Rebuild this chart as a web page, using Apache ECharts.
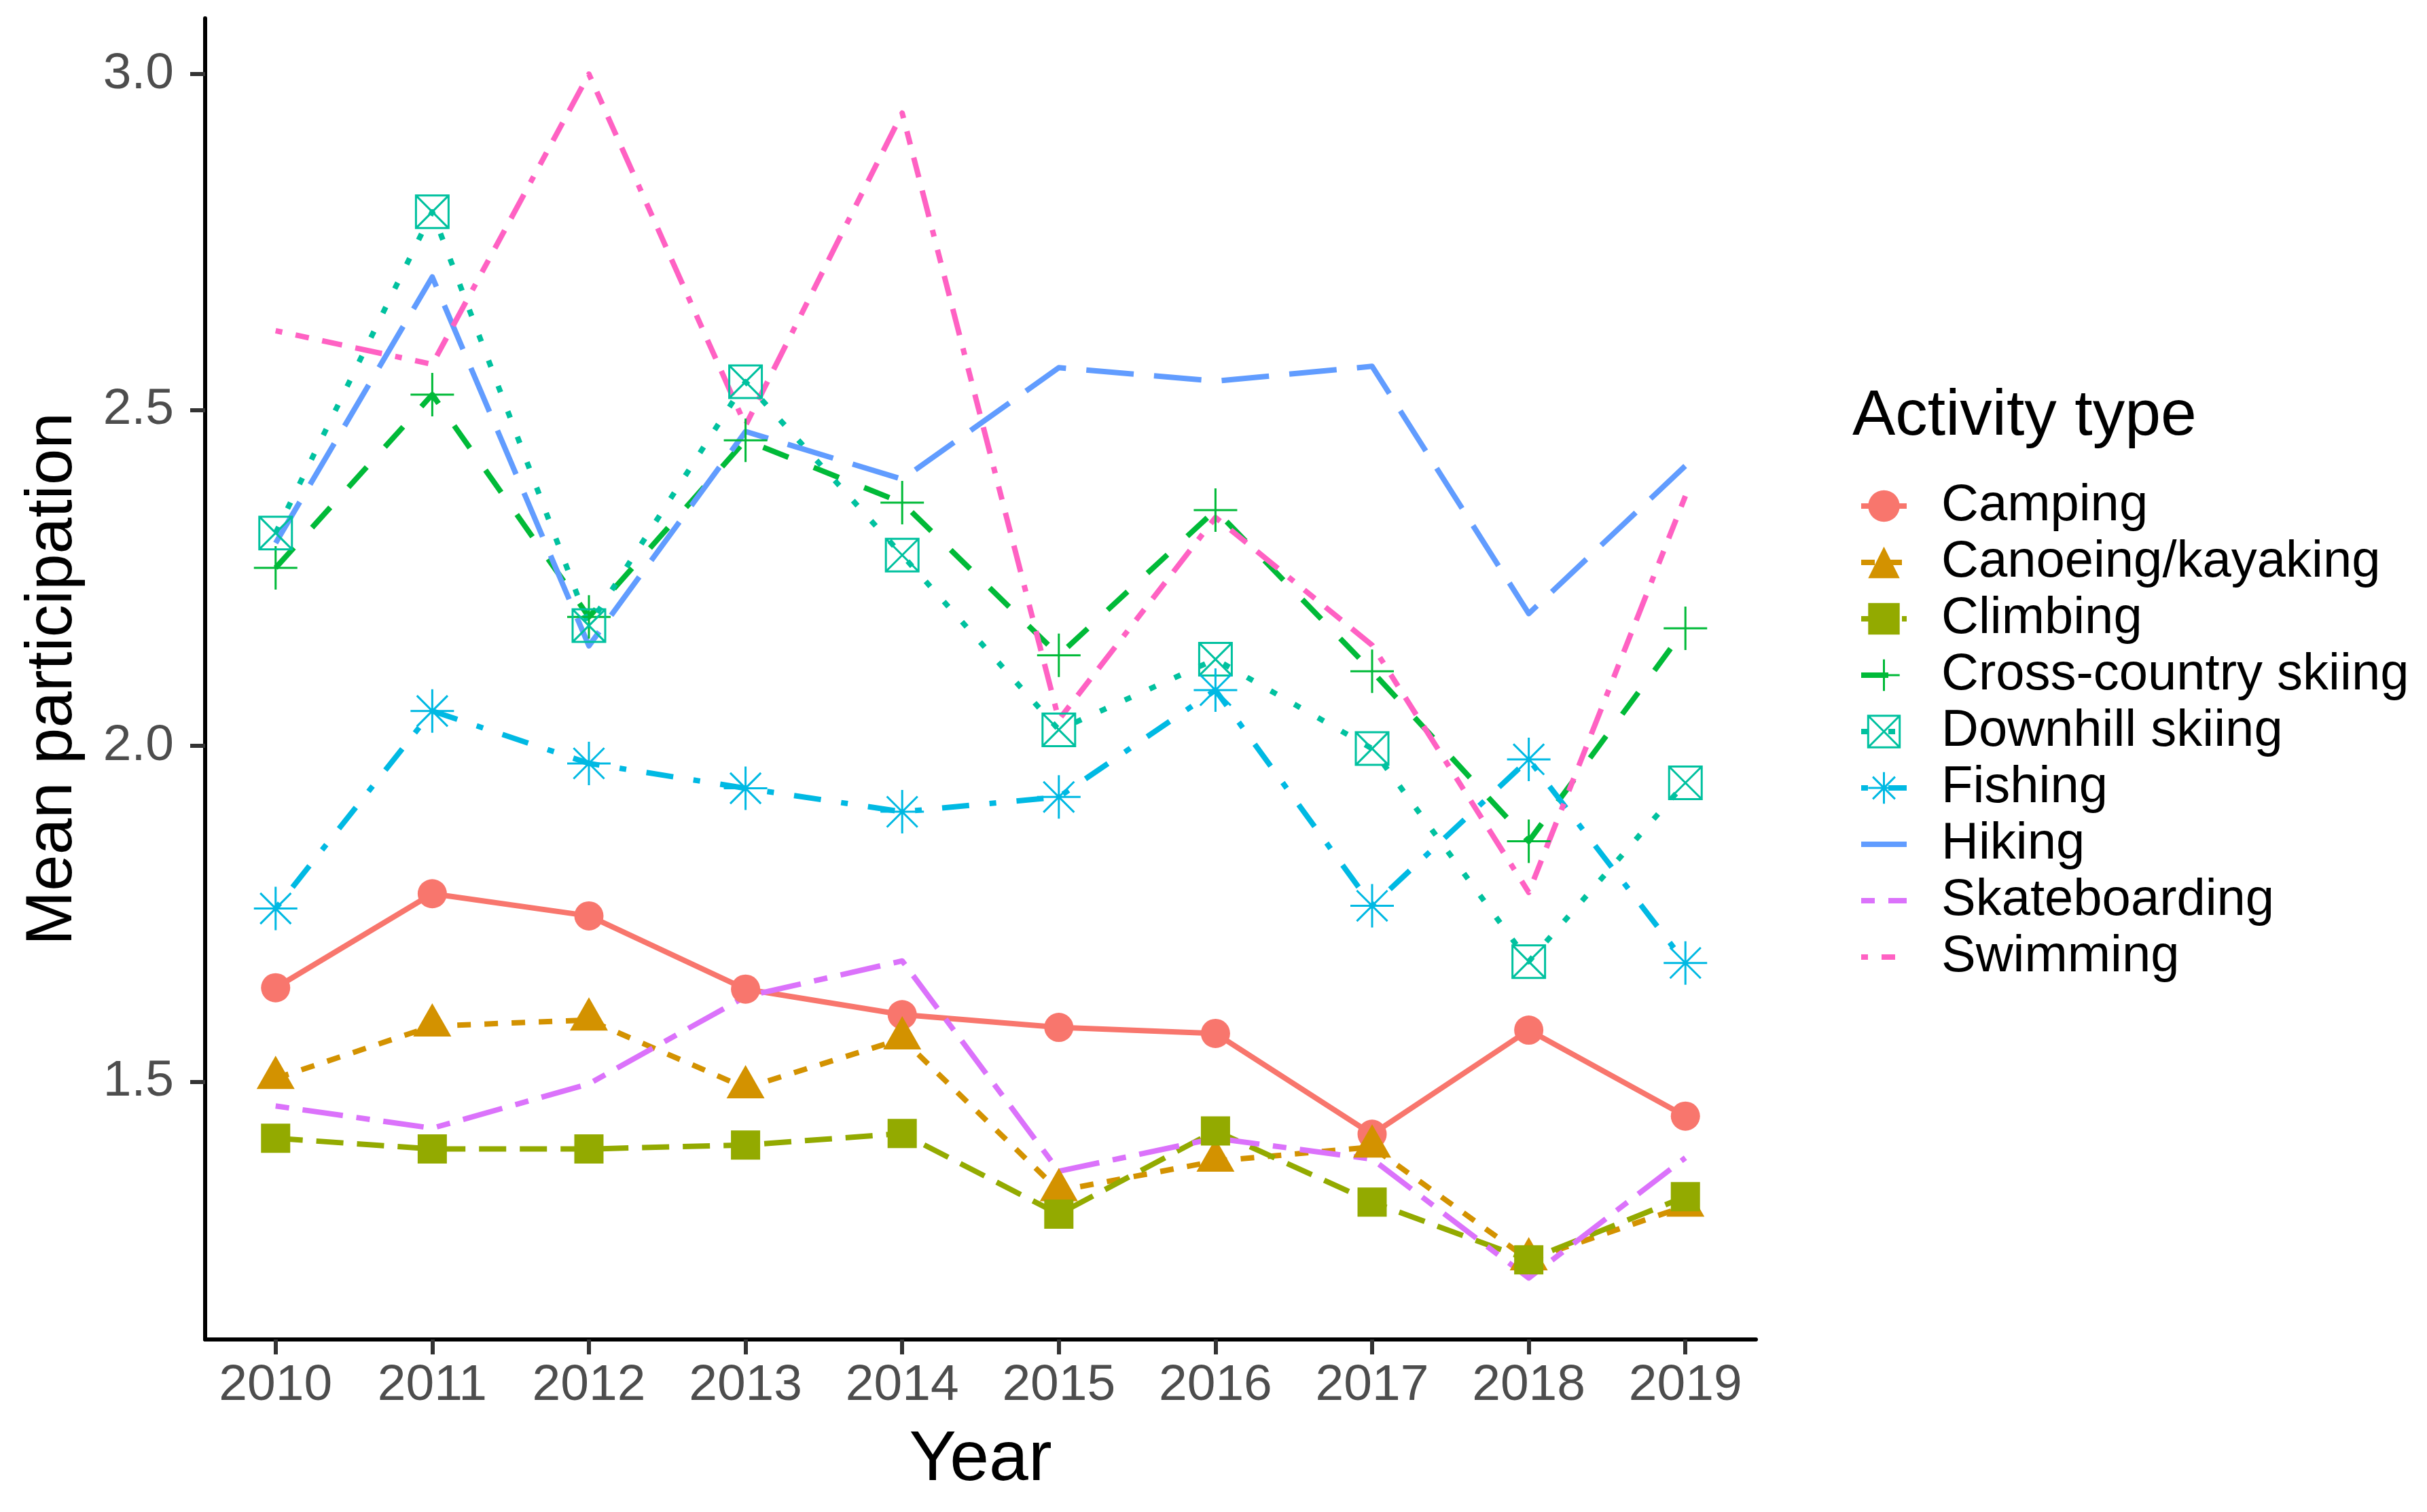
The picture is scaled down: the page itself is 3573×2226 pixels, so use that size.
<!DOCTYPE html>
<html><head><meta charset="utf-8">
<script src="https://cdn.jsdelivr.net/npm/echarts@6.0.0/dist/echarts.min.js"></script>
<style>html,body{margin:0;padding:0;background:#fff}#c{width:3573px;height:2226px}</style>
</head><body><div id="c"></div>
<script>
// ---- data ----
const years = [2010, 2011, 2012, 2013, 2014, 2015, 2016, 2017, 2018, 2019];
const yTicks = [1.5, 2.0, 2.5, 3.0];
const activities = ['Camping', 'Canoeing/kayaking', 'Climbing', 'Cross-country skiing', 'Downhill skiing', 'Fishing', 'Hiking', 'Skateboarding', 'Swimming'];
const camping       = [1.640, 1.780, 1.747, 1.638, 1.600, 1.581, 1.572, 1.422, 1.577, 1.449];
const canoeing      = [1.505, 1.583, 1.592, 1.491, 1.564, 1.338, 1.382, 1.403, 1.235, 1.315];
const climbing      = [1.416, 1.400, 1.400, 1.406, 1.423, 1.303, 1.427, 1.321, 1.235, 1.329];
const crossCountry  = [2.265, 2.523, 2.192, 2.455, 2.362, 2.135, 2.351, 2.111, 1.858, 2.175];
const downhill      = [2.317, 2.795, 2.179, 2.542, 2.284, 2.024, 2.129, 1.996, 1.679, 1.945];
const fishing       = [1.758, 2.052, 1.974, 1.937, 1.902, 1.924, 2.083, 1.762, 1.980, 1.677];
const hiking        = [2.302, 2.698, 2.149, 2.468, 2.397, 2.563, 2.543, 2.565, 2.197, 2.417];
const skateboarding = [1.464, 1.431, 1.497, 1.627, 1.680, 1.367, 1.416, 1.385, 1.208, 1.387];
const swimming      = [2.618, 2.568, 3.000, 2.477, 2.942, 2.039, 2.340, 2.150, 1.782, 2.372];

// ---- styles ----
const seriesValues = [camping, canoeing, climbing, crossCountry, downhill, fishing, hiking, skateboarding, swimming];
const colors = ['#F8766D', '#D39200', '#93AA00', '#00BA38', '#00C19F', '#00B9E3', '#619CFF', '#DB72FB', '#FF61C3'];
const dashes = ['solid', [20, 20], [40, 20], [40, 40], [10, 30], [10, 30, 40, 30], [70, 30], [20, 20, 60, 20], [10, 20, 20, 20, 30, 20, 40, 20]];
const PLUS = 'path://M0,32L64,32M32,0L32,64';
const BOXX = 'path://M0,0L48,0L48,48L0,48ZM0,0L48,48M48,0L0,48';
const AST = 'path://M0,32L64,32M32,0L32,64M9.4,9.4L54.6,54.6M54.6,9.4L9.4,54.6';
const shapes = [
  { symbol: 'circle', size: 43, fill: true },
  { symbol: 'triangle', size: [56, 49], fill: true, offset: [0, -9] },
  { symbol: 'rect', size: 43, fill: true },
  { symbol: PLUS, size: 64, fill: false },
  { symbol: BOXX, size: 48, fill: false },
  { symbol: AST, size: 64, fill: false },
  null, null, null
];
const FONT = '"Liberation Sans", Arial, Helvetica, sans-serif';
const TRANSP = 'rgba(0,0,0,0)';

function itemStyleFor(i) {
  const s = shapes[i], c = colors[i];
  if (!s) return { color: TRANSP, borderColor: TRANSP, borderWidth: 0 };
  if (s.fill) return { color: c, borderColor: c, borderWidth: 0 };
  return { color: TRANSP, borderColor: c, borderWidth: 3 };
}

const lineSeries = activities.map((name, i) => ({
  type: 'line', name: name,
  data: years.map((y, j) => [y, seriesValues[i][j]]),
  showSymbol: false,
  symbol: shapes[i] ? shapes[i].symbol : 'circle',
  lineStyle: { color: colors[i], width: 8, type: dashes[i], cap: 'butt', join: 'round' },
  itemStyle: itemStyleFor(i),
  z: 2, silent: true, animation: false
}));
const pointSeries = activities.map((name, i) => shapes[i] ? ({
  type: 'scatter', name: name,
  data: years.map((y, j) => [y, seriesValues[i][j]]),
  symbol: shapes[i].symbol,
  symbolSize: shapes[i].size,
  symbolOffset: shapes[i].offset || [0, 0],
  itemStyle: Object.assign({ opacity: 1 }, itemStyleFor(i)),
  z: 3, silent: true, animation: false
}) : null).filter(Boolean);

const chart = echarts.init(document.getElementById('c'), null, { renderer: 'canvas' });
chart.setOption({
  backgroundColor: '#ffffff',
  animation: false,
  title: {
    text: 'Activity type', left: 2727, top: 566, padding: 0,
    textStyle: { fontSize: 95, fontWeight: 'normal', color: '#000', fontFamily: FONT }
  },
  grid: { left: 302, right: 988, top: 27, bottom: 254, containLabel: false, outerBoundsMode: 'none' },
  xAxis: {
    type: 'value', min: 2009.55, max: 2019.45,
    name: 'Year', nameLocation: 'middle', nameGap: 126,
    nameTextStyle: { fontSize: 104, color: '#000', fontFamily: FONT },
    axisLine: { show: true, onZero: false, lineStyle: { color: '#000', width: 6 } },
    axisTick: { show: true, length: 22, customValues: years, lineStyle: { color: '#333333', width: 6 } },
    axisLabel: { show: true, customValues: years, margin: 31, fontSize: 75, color: '#4D4D4D', fontFamily: FONT, formatter: v => String(Math.round(v)) },
    splitLine: { show: false }
  },
  yAxis: {
    type: 'value', min: 1.1165, max: 3.083,
    name: 'Mean participation', nameLocation: 'middle', nameRotate: 90, nameGap: 175,
    nameTextStyle: { fontSize: 96, color: '#000', fontFamily: FONT },
    axisLine: { show: true, onZero: false, lineStyle: { color: '#000', width: 6 } },
    axisTick: { show: true, length: 22, customValues: yTicks, lineStyle: { color: '#333333', width: 6 } },
    axisLabel: { show: true, customValues: yTicks, margin: 46, fontSize: 75, color: '#4D4D4D', fontFamily: FONT, formatter: v => v.toFixed(1) },
    splitLine: { show: false }
  },
  legend: {
    orient: 'vertical', left: 2736, top: 707, padding: 0, itemGap: 7,
    itemWidth: 67, itemHeight: 58, selectedMode: false,
    textStyle: { fontSize: 76, color: '#000', fontFamily: FONT, padding: [0, 0, 0, 46] },
    lineStyle: { width: 8 },
    data: activities.map((n, i) => ({ name: n, itemStyle: itemStyleFor(i) }))
  },
  series: lineSeries.concat(pointSeries)
});
</script>
</body></html>
